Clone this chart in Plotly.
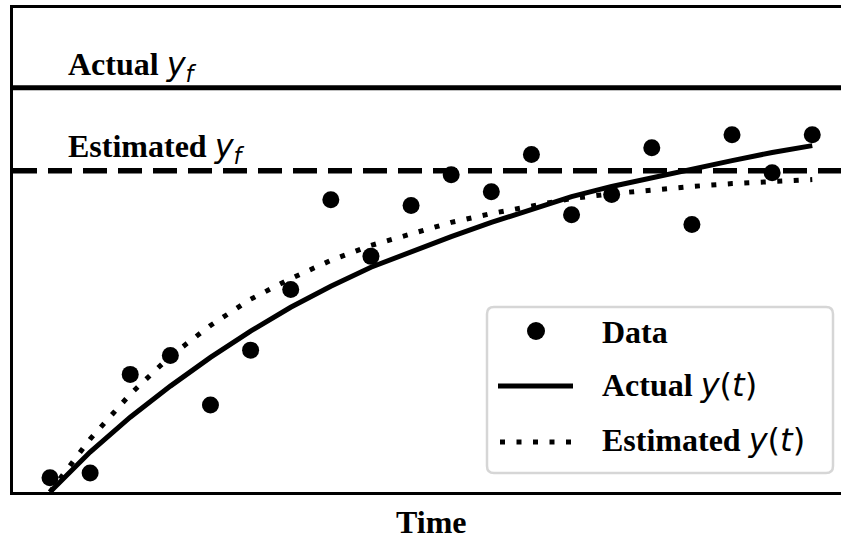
import plotly.graph_objects as go

# ---- data ----
t = list(range(20))
data_y = [0.035, 0.047, 0.291, 0.338, 0.215, 0.351, 0.501, 0.723, 0.583, 0.709,
          0.785, 0.743, 0.835, 0.686, 0.736, 0.852, 0.662, 0.884, 0.790, 0.884]
actual_y = [0.0, 0.099, 0.185, 0.262, 0.333, 0.398, 0.457, 0.509, 0.556, 0.595,
            0.632, 0.667, 0.699, 0.731, 0.756, 0.778, 0.800, 0.820, 0.840, 0.857]
estimated_y = [0.0, 0.131, 0.242, 0.336, 0.412, 0.477, 0.528, 0.573, 0.610, 0.640,
               0.667, 0.689, 0.709, 0.726, 0.738, 0.748, 0.756, 0.763, 0.768, 0.773]
actual_yf = 1.0
estimated_yf = 0.795
x_label = "Time"
legend_labels = ["Data", "Actual", "Estimated"]

W, H = 841, 539
L, T, B, R = 13, 8, 47, 0
PW, PH = W - L - R, H - T - B

def px(x):
    return (x - L) / PW

def py(y):
    return (H - B - y) / PH

SERIF = "Liberation Serif"
MATH = "font-family:DejaVu Sans"

def mtext(word, math):
    return f"<b>{word}</b> <span style='{MATH}'>{math}</span>"

YF = "<i>y</i><sub><i>f</i></sub>"
YT = "<i>y</i>(<i>t</i>)"

fig = go.Figure()
fig.add_trace(go.Scatter(x=t, y=actual_y, mode="lines",
                         line=dict(color="black", width=5), showlegend=False))
fig.add_trace(go.Scatter(x=t, y=estimated_y, mode="lines",
                         line=dict(color="black", width=5, dash="5px,11.5px"),
                         showlegend=False))
fig.add_trace(go.Scatter(x=t, y=data_y, mode="markers",
                         marker=dict(color="black", size=17), cliponaxis=False,
                         showlegend=False))

shapes = [
    dict(type="line", xref="paper", yref="y", x0=0, x1=1, y0=actual_yf, y1=actual_yf,
         line=dict(color="black", width=5)),
    dict(type="line", xref="paper", yref="y", x0=0, x1=1, y0=estimated_yf, y1=estimated_yf,
         line=dict(color="black", width=5.5, dash="24px,11px")),
]

# legend box (rounded)
x0, x1, y0, y1 = 487, 833, 307, 473
r = 7
path = (f"M {px(x0 + r)},{py(y0)} L {px(x1 - r)},{py(y0)} Q {px(x1)},{py(y0)} {px(x1)},{py(y0 + r)} "
        f"L {px(x1)},{py(y1 - r)} Q {px(x1)},{py(y1)} {px(x1 - r)},{py(y1)} "
        f"L {px(x0 + r)},{py(y1)} Q {px(x0)},{py(y1)} {px(x0)},{py(y1 - r)} "
        f"L {px(x0)},{py(y0 + r)} Q {px(x0)},{py(y0)} {px(x0 + r)},{py(y0)} Z")
shapes.append(dict(type="path", xref="paper", yref="paper", path=path,
                   fillcolor="rgba(255,255,255,0.85)", line=dict(color="#d6d6d6", width=2.5)))
# legend symbols
shapes.append(dict(type="circle", xref="paper", yref="paper",
                   x0=px(536 - 9), x1=px(536 + 9), y0=py(331 - 9), y1=py(331 + 9),
                   fillcolor="black", line=dict(width=0)))
shapes.append(dict(type="line", xref="paper", yref="paper",
                   x0=px(498), x1=px(573), y0=py(386), y1=py(386),
                   line=dict(color="black", width=5)))
shapes.append(dict(type="line", xref="paper", yref="paper",
                   x0=px(500), x1=px(573), y0=py(442), y1=py(442),
                   line=dict(color="black", width=5, dash="5px,11.5px")))

anns = [
    dict(text=mtext("Actual", YF), x=px(66), y=py(66), size=32),
    dict(text=mtext("Estimated", YF), x=px(66), y=py(148), size=32),
    dict(text="<b>" + legend_labels[0] + "</b>", x=px(600), y=py(332), size=32),
    dict(text=mtext(legend_labels[1], YT), x=px(600), y=py(385), size=32),
    dict(text=mtext(legend_labels[2], YT), x=px(600), y=py(440), size=32),
]
annotations = []
for a in anns:
    size = a.pop("size")
    annotations.append(dict(a, xref="paper", yref="paper", xanchor="left", yanchor="middle",
                            showarrow=False, font=dict(family=SERIF, size=size, color="black")))
annotations.append(dict(text="<b>" + x_label + "</b>", xref="paper", yref="paper",
                        x=px(431), y=py(522), xanchor="center", yanchor="middle",
                        showarrow=False, font=dict(family=SERIF, size=32, color="black")))

fig.update_layout(
    width=W, height=H,
    margin=dict(l=L, r=R, t=T, b=B),
    paper_bgcolor="white", plot_bgcolor="white",
    shapes=shapes, annotations=annotations,
    xaxis=dict(range=[-0.922, 19.716], showgrid=False, zeroline=False, showticklabels=False,
               ticks="", showline=True, linecolor="black", linewidth=3, mirror=True),
    yaxis=dict(range=[0.0, 1.1975], showgrid=False, zeroline=False, showticklabels=False,
               ticks="", showline=True, linecolor="black", linewidth=3, mirror=False),
)

fig.write_html("out.html", config={"displayModeBar": False},
               post_script="document.body.style.margin='0';document.body.style.overflow='hidden';")
